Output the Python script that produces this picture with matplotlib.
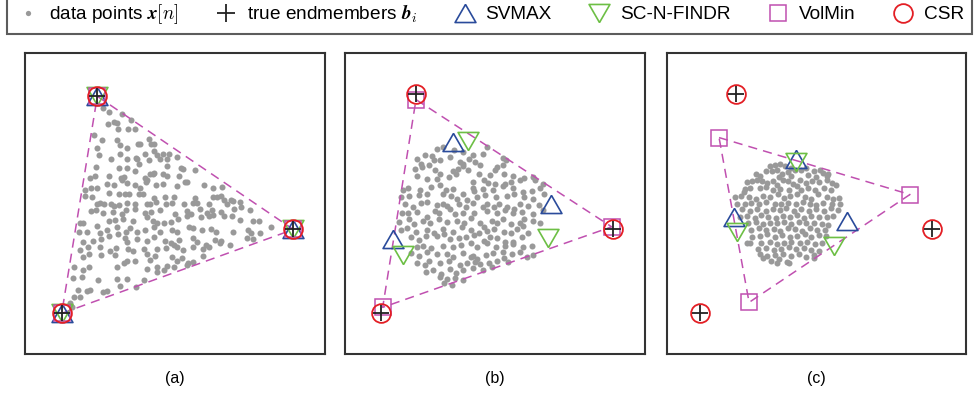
import numpy as np
import matplotlib
matplotlib.use("Agg")
import matplotlib.pyplot as plt
from matplotlib.lines import Line2D

plt.rcParams["font.family"] = ["Liberation Sans", "DejaVu Sans"]
plt.rcParams["mathtext.fontset"] = "cm"

# coordinates, in 1/3-pixel units inside each panel (y grows downward)
a_points = [
    (248,172),(268,185),(305,192),(282,215),(292,218),(332,210),(264,222),
    (295,237),(325,236),(345,237),(222,255),(245,268),(290,268),(354,282),(360,282),(388,265),(392,282),(402,282),
    (232,292),(300,285),(322,292),(238,313),(300,312),(348,322),(350,326),(376,312),(402,302),(412,315),(428,312),
    (272,325),(322,325),(386,330),(420,325),(440,326),(448,310),(470,320),
    (228,350),(296,352),(322,352),(345,362),(358,340),(390,372),(440,346),(484,352),(488,356),(524,358),(210,382),
    (225,378),(268,378),(302,382),(312,380),(375,382),(382,388),(398,372),(402,368),(430,372),(440,376),(478,378),
    (496,394),(502,394),
    (196,420),(214,412),(232,412),(262,400),(282,405),(306,388),(322,398),(345,405),(360,412),(378,395),(408,405),
    (430,400),(470,408),(552,404),(578,412),(606,410),(196,438),(216,440),(268,428),(298,432),(316,432),(326,432),
    (358,432),(368,432),(402,442),(436,440),(462,440),(580,440),(592,440),(602,436),(634,448),(524,442),
    (230,460),(240,458),(252,462),(274,462),(282,468),(296,466),(322,458),(345,460),(380,460),(390,462),(408,455),
    (437,460),(455,458),(492,462),(520,458),(532,458),(566,462),(611,450),(622,460),(638,452),(660,456),(214,482),
    (228,480),(250,488),(278,486),(305,492),(318,480),(344,478),(375,488),(392,485),(420,480),(464,492),(500,482),
    (512,492),(540,478),(560,490),(576,480),(602,486),(642,478),(664,470),(690,480),
    (180,520),(188,520),(230,528),(268,512),(284,510),(310,508),(340,512),(380,500),(400,512),(410,520),(432,518),
    (454,515),(475,508),(500,498),(542,502),(568,498),(580,496),(612,498),(636,498),(660,510),(700,512),(716,514),
    (176,545),(200,546),(240,548),(262,540),(292,530),(318,545),(330,535),(350,545),(375,540),(402,530),(420,545),
    (456,540),(470,545),(508,530),(520,535),(545,540),(572,538),(588,545),(638,545),(685,540),(694,548),(720,548),
    (752,532),
    (190,575),(218,574),(244,566),(268,558),(295,552),(316,565),(322,575),(350,568),(380,572),(402,560),(435,572),
    (452,580),(478,570),(518,565),(530,575),(558,585),(586,570),(602,572),(630,586),(680,565),(700,568),(180,600),
    (204,592),(240,592),(270,604),(288,594),(324,596),(338,602),(373,598),(382,612),(410,598),(438,594),(462,585),
    (470,592),(490,600),(520,590),(548,598),(568,590),(600,580),
    (190,622),(206,612),(242,616),(286,615),(312,638),(320,632),(344,632),(390,630),(405,618),(455,622),(470,632),
    (485,625),(505,640),(520,635),(550,618),(162,652),(188,660),(208,652),(292,652),(380,658),(412,650),(440,648),
    (462,652),(500,645),
    (158,685),(185,682),(235,690),(290,688),(320,688),(372,690),(412,665),(432,660),(175,720),(202,722),(210,720),
    (250,725),(300,708),(348,712),(162,742),(180,742),(260,722),(150,760),(155,770),
]
b_points = [
    (290,295),(310,290),(342,300),(368,305),(400,315),(430,310),(440,290),(230,325),(255,315),(275,318),(282,330),
    (300,330),(330,320),(360,335),(388,325),(405,335),(488,322),(498,330),(242,340),(268,345),(370,348),(420,345),
    (470,350),(490,345),
    (225,355),(245,350),(286,360),(300,370),(340,362),(355,355),(368,340),(385,358),(418,372),(450,375),(466,360),
    (492,372),(520,378),(552,382),(578,380),(230,378),(260,385),(292,385),(328,380),(348,372),(398,395),(432,390),
    (444,398),(464,400),(496,400),(512,395),(540,390),(585,388),(610,400),
    (190,420),(205,412),(240,418),(272,410),(300,405),(318,420),(340,415),(368,430),(398,412),(402,422),(428,415),
    (458,418),(490,408),(520,412),(548,425),(575,422),(600,412),(182,440),(208,438),(236,435),(262,430),(308,432),
    (332,438),(352,445),(380,448),(410,440),(436,435),(468,440),(500,438),(522,430),(552,440),(580,445),(612,432),
    (195,462),(218,470),(242,458),(262,455),(290,465),(310,460),(322,468),(356,462),(378,470),(398,458),(430,470),
    (442,462),(462,472),(478,460),(500,470),(522,478),(540,462),(565,468),(598,465),(185,490),(205,488),(232,485),
    (262,500),(286,482),(296,490),(330,478),(346,492),(370,490),(402,488),(440,482),(470,490),(494,480),(520,490),
    (547,485),(578,492),(608,480),
    (178,515),(206,508),(222,522),(248,512),(270,520),(298,508),(322,515),(350,512),(372,520),(392,505),(420,518),
    (432,530),(456,512),(470,520),(488,508),(512,522),(540,518),(552,508),(580,512),(600,520),(182,540),(200,535),
    (228,545),(262,540),(282,548),(310,538),(340,545),(365,530),(392,540),(418,548),(440,542),(462,538),(492,545),
    (512,548),(532,538),(548,528),(565,548),
    (212,562),(238,570),(258,558),(292,558),(312,552),(330,568),(358,565),(378,560),(402,555),(432,572),(450,562),
    (470,565),(495,575),(520,575),(545,560),(232,590),(248,588),(272,595),(308,588),(340,592),(362,585),(392,580),
    (412,590),(440,580),(468,592),(494,588),(520,582),(548,592),(575,588),
    (212,610),(238,618),(262,605),(290,612),(320,612),(340,620),(368,610),(392,622),(398,618),(412,628),(438,615),
    (458,608),(490,605),(515,612),(540,605),(560,620),(580,615),(232,640),(255,645),(268,632),(300,638),(328,632),
    (360,645),(382,640),(404,635),(420,642),(448,638),(470,632),(492,625),(505,635),
    (258,665),(280,660),(302,672),(330,658),(348,668),(370,660),(398,655),(428,660),(455,650),(300,680),(322,688),
    (345,685),(368,690),(312,700),(335,705),
]
c_points = [
    (330,348),(345,345),(360,340),(375,348),(395,352),(318,362),(338,362),(352,358),(368,370),(385,365),(405,360),
    (425,360),(440,352),(462,362),(480,358),(490,368),(500,378),(505,372),(288,372),(300,378),(358,380),(395,378),
    (445,375),(470,380),
    (262,395),(278,392),(292,388),(308,392),(322,398),(340,392),(352,405),(370,390),(385,392),(400,400),(420,390),
    (438,398),(458,392),(478,395),(500,390),(515,398),(528,405),(255,415),(272,412),(300,412),(318,410),(340,418),
    (362,415),(388,420),(412,408),(425,420),(445,412),(465,420),(492,412),(512,418),(252,425),
    (225,440),(245,438),(268,440),(290,445),(310,438),(330,440),(355,432),(372,442),(392,438),(412,432),(435,440),
    (455,445),(475,432),(500,440),(520,445),(538,442),(232,460),(255,462),(275,458),(298,462),(320,455),(345,460),
    (365,462),(385,458),(408,462),(430,455),(450,460),(470,465),(490,458),(515,460),(540,462),(248,478),(270,482),
    (292,478),(318,482),(340,478),(360,480),(380,475),(402,482),(425,478),(448,482),(470,478),(492,482),(512,475),
    (535,480),
    (240,500),(262,498),(285,505),(305,495),(325,500),(348,505),(370,498),(390,502),(412,495),(432,505),(455,498),
    (478,502),(500,500),(520,498),(265,520),(288,515),(310,522),(330,518),(352,520),(372,515),(395,522),(418,515),
    (440,520),(462,518),(485,522),(505,525),(275,540),(298,535),(320,540),(342,538),(362,542),(385,535),(405,538),
    (428,542),(450,535),(472,540),(495,540),
    (262,578),(278,560),(300,558),(322,552),(345,560),(368,555),(390,562),(412,558),(435,552),(455,560),(478,555),
    (498,558),(272,578),(305,578),(330,575),(352,582),(372,578),(395,575),(420,580),(442,575),(465,582),(485,578),
    (295,598),(320,595),(342,600),(365,598),(388,592),(410,598),(432,595),(455,600),(478,602),
    (300,612),(322,618),(345,615),(370,612),(395,618),(418,612),(440,620),(462,615),(310,625),(335,632),(358,628),
    (382,635),(352,640),(388,638),(462,625),
]

# endmembers and estimates per panel
a_true = [(232,138),(820,538),(125,790)]
a_svmax = [(232,138),(820,538),(125,790)]
a_scn = [(232,138),(820,538),(125,790)]
a_volmin = [(232,138),(820,538),(125,790)]
a_csr = [(232,138),(820,538),(125,790)]

b_true = [(228,130),(818,538),(122,788)]
b_svmax = [(338,275),(632,462),(160,568)]
b_scn = [(383,272),(625,563),(188,615)]
b_volmin = [(228,148),(815,530),(128,772)]
b_csr = [(228,130),(818,538),(122,788)]

c_true = [(228,132),(815,538),(122,790)]
c_svmax = [(410,325),(222,500),(560,512)]
c_scn = [(410,335),(232,545),(522,588)]
c_volmin = [(178,262),(750,433),(268,757)]
c_csr = [(228,132),(815,538),(122,790)]

panel_labels = ["(a)", "(b)", "(c)"]
legend_labels = [r"data points $\boldsymbol{x}[n]$", r"true endmembers $\boldsymbol{b}_i$",
                 "SVMAX", "SC-N-FINDR", "VolMin", "CSR"]

GRAY = "#999999"; BLUE = "#2a4b9b"; GREEN = "#6dbf45"; MAG = "#c050b0"; RED = "#e31e24"
tri_up = [(0, 0.5), (-0.577, -0.5), (0.577, -0.5), (0, 0.5)]
tri_dn = [(0, -0.5), (-0.577, 0.5), (0.577, 0.5), (0, -0.5)]

W, H = 979, 393
fig = plt.figure(figsize=(W / 100, H / 100), dpi=100)
rects = [(25, 53, 300, 301), (345, 53, 300, 301), (667, 53, 299, 301)]
frames = [(15, 915, 912, 8), (15, 915, 912, 8), (22, 918, 912, 8)]
panels = [
    (a_points, a_true, a_svmax, a_scn, a_volmin, a_csr),
    (b_points, b_true, b_svmax, b_scn, b_volmin, b_csr),
    (c_points, c_true, c_svmax, c_scn, c_volmin, c_csr),
]

for (x, y, w, h), lim, data, lab in zip(rects, frames, panels, panel_labels):
    ax = fig.add_axes([x / W, 1 - (y + h) / H, w / W, h / H])
    pts, tru, sv, sc, vm, cs = [np.array(d, dtype=float) for d in data]
    ax.scatter(pts[:, 0], pts[:, 1], s=19, color=GRAY, lw=0, zorder=1)
    loop = np.vstack([vm, vm[:1]])
    ax.plot(loop[:, 0], loop[:, 1], color=MAG, lw=1.1, dashes=(6, 4), zorder=2)
    ax.plot(sv[:, 0], sv[:, 1], ls="none", marker=tri_up, ms=15, mfc="none", mec=BLUE, mew=1.2, zorder=3)
    ax.plot(sc[:, 0], sc[:, 1], ls="none", marker=tri_dn, ms=15, mfc="none", mec=GREEN, mew=1.2, zorder=3)
    ax.plot(vm[:, 0], vm[:, 1], ls="none", marker="s", ms=11, mfc="none", mec=MAG, mew=1.1, zorder=4)
    ax.plot(cs[:, 0], cs[:, 1], ls="none", marker="o", ms=13.5, mfc="none", mec=RED, mew=1.3, zorder=5)
    ax.plot(tru[:, 0], tru[:, 1], ls="none", marker="+", ms=11, color="#222222", mew=1.3, zorder=6)
    ax.set_xlim(lim[0], lim[1]); ax.set_ylim(lim[2], lim[3])
    ax.set_xticks([]); ax.set_yticks([])
    for s in ax.spines.values():
        s.set_linewidth(1.5); s.set_color("#333333")
    ax.text(0.5, -0.08, lab, transform=ax.transAxes, ha="center", va="center", fontsize=11.5)

handles = [
    Line2D([], [], ls="none", marker="o", ms=3.8, color=GRAY, mew=0),
    Line2D([], [], ls="none", marker="+", ms=13, color="#222222", mew=1.3),
    Line2D([], [], ls="none", marker=tri_up, ms=15, mfc="none", mec=BLUE, mew=1.2),
    Line2D([], [], ls="none", marker=tri_dn, ms=15, mfc="none", mec=GREEN, mew=1.2),
    Line2D([], [], ls="none", marker="s", ms=11, mfc="none", mec=MAG, mew=1.1),
    Line2D([], [], ls="none", marker="o", ms=13.5, mfc="none", mec=RED, mew=1.3),
]
leg = fig.legend(handles, legend_labels, loc="lower left", ncol=6, mode="expand",
                 bbox_to_anchor=(7 / W, 1 - 34 / H, 965 / W, 33 / H), borderaxespad=0,
                 fancybox=False, edgecolor="#333333", handletextpad=0.4, handlelength=1.4,
                 prop={"size": 13.7})
leg.get_frame().set_linewidth(1.5)

fig.savefig("out.png", dpi=100)
